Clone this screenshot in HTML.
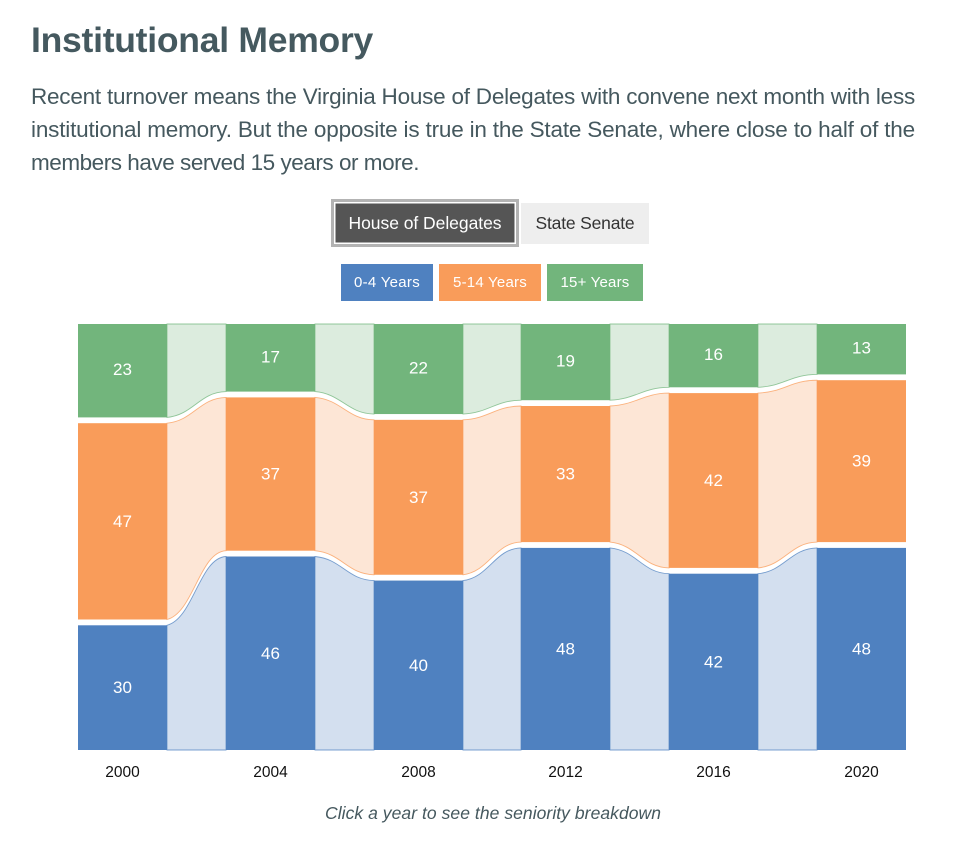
<!DOCTYPE html>
<html lang="en">
<head>
<meta charset="utf-8">
<title>Institutional Memory</title>
<style>
html,body{margin:0;padding:0;background:#fff;}
body{position:relative;width:964px;height:852px;overflow:hidden;font-family:"Liberation Sans",Arial,sans-serif;color:#45585e;}
.t{position:absolute;white-space:nowrap;margin:0;font-weight:normal;}
#title{left:31px;top:19px;line-height:42px;font-size:35.5px;font-weight:bold;color:#45595f;}
.line{left:31px;font-size:22.5px;line-height:30px;color:#45585e;}
.btn{position:absolute;box-sizing:border-box;display:flex;align-items:center;justify-content:center;font-size:17.5px;cursor:pointer;white-space:nowrap;}
#house{left:331px;top:199px;width:188px;height:48px;background:#555;color:#fff;border:3px solid #b3b3b3;box-shadow:inset 0 0 0 1.5px #fff;}
#senate{left:521px;top:203px;width:128px;height:41px;background:#eee;color:#333;}
.key{position:absolute;top:264px;height:37px;line-height:38px;text-align:center;color:#fff;font-size:15px;white-space:nowrap;}
#chart{position:absolute;left:0;top:0;}
#caption{left:325px;top:800px;line-height:26px;font-size:17.5px;font-style:italic;color:#45585e;}
</style>
</head>
<body>
<h1 class="t" id="title" data-w="342">Institutional Memory</h1>
<div class="t line" style="top:82px" data-w="884">Recent turnover means the Virginia House of Delegates with convene next month with less</div>
<div class="t line" style="top:115px" data-w="884">institutional memory. But the opposite is true in the State Senate, where close to half of the</div>
<div class="t line" style="top:148px" data-w="388">members have served 15 years or more.</div>

<div class="btn" id="house"><span data-w="153">House of Delegates</span></div>
<div class="btn" id="senate"><span data-w="99">State Senate</span></div>

<div class="key" style="left:341px;width:92px;background:#4f81c0"><span data-w="66">0-4 Years</span></div>
<div class="key" style="left:439px;width:102px;background:#f99c5a"><span data-w="74">5-14 Years</span></div>
<div class="key" style="left:547px;width:96px;background:#72b57c"><span data-w="69">15+ Years</span></div>

<svg id="chart" width="964" height="852" viewBox="0 0 964 852" xmlns="http://www.w3.org/2000/svg"></svg>

<div class="t" id="caption" data-w="336">Click a year to see the seniority breakdown</div>

<script>
// Chart data
var years = ['2000', '2004', '2008', '2012', '2016', '2020'];
var seriesNames = ['0-4 Years', '5-14 Years', '15+ Years'];
var years0to4 = [30, 46, 40, 48, 42, 48];
var years5to14 = [47, 37, 37, 33, 42, 39];
var years15plus = [23, 17, 22, 19, 16, 13];

var seriesValues = [years0to4, years5to14, years15plus];
var seriesColors = ['#4f81c0', '#f99c5a', '#72b57c'];
var NS = 'http://www.w3.org/2000/svg';
var svg = document.getElementById('chart');

function xScale(i) { return Math.round(78 + i * 147.8); }
var barWidth = 89;
var plotTop = 324, plotBottom = 750;
function yScale(share) {
  var y = 754 - 4.3 * share;
  return Math.max(plotTop, Math.min(plotBottom, y));
}
function stackTotal(i) {
  var t = 0;
  for (var s = 0; s < seriesValues.length; s++) t += seriesValues[s][i];
  return t;
}
function cumulative(s, i) {
  var c = 0;
  for (var k = 0; k <= s; k++) c += seriesValues[k][i];
  return c / stackTotal(i) * 100;
}
// Top edge of a segment
function segTop(s, i) {
  if (s === seriesValues.length - 1) return plotTop;
  return yScale(cumulative(s, i)) + 0.3;
}
// Bottom edge of a segment
function segBottom(s, i) {
  if (s === 0) return plotBottom;
  return yScale(cumulative(s - 1, i)) - 5.5;
}
// Control points of the curve, always defined left to right
function curvePoints(x0, y0, x1, y1) {
  var w = x1 - x0, d = y1 - y0;
  return [x0 + 0.45 * w, y0 + 0.1 * d, x0 + 0.55 * w, y1 - 0.02 * d];
}
function curveForward(x0, y0, x1, y1) {
  var c = curvePoints(x0, y0, x1, y1);
  return 'C' + c[0] + ',' + c[1] + ' ' + c[2] + ',' + c[3] + ' ' + x1 + ',' + y1;
}
function curveBackward(x0, y0, x1, y1) {
  var c = curvePoints(x0, y0, x1, y1);
  return 'C' + c[2] + ',' + c[3] + ' ' + c[0] + ',' + c[1] + ' ' + x0 + ',' + y0;
}

// Ribbons between the year columns
for (var s = 0; s < seriesValues.length; s++) {
  for (var i = 0; i < years.length - 1; i++) {
    var x0 = xScale(i) + barWidth, x1 = xScale(i + 1);
    var d = 'M' + x0 + ',' + segTop(s, i) +
      curveForward(x0, segTop(s, i), x1, segTop(s, i + 1)) +
      'L' + x1 + ',' + segBottom(s, i + 1) +
      curveBackward(x0, segBottom(s, i), x1, segBottom(s, i + 1)) + 'Z';
    var ribbon = document.createElementNS(NS, 'path');
    ribbon.setAttribute('d', d);
    ribbon.setAttribute('fill', seriesColors[s]);
    ribbon.setAttribute('fill-opacity', '0.25');
    ribbon.setAttribute('stroke', seriesColors[s]);
    ribbon.setAttribute('stroke-width', '0.9');
    ribbon.setAttribute('stroke-opacity', '0.75');
    
    
    svg.appendChild(ribbon);
  }
}

// Bars and value labels
for (var s2 = 0; s2 < seriesValues.length; s2++) {
  for (var j = 0; j < years.length; j++) {
    var barTop = segTop(s2, j), barBottom = segBottom(s2, j);
    var rect = document.createElementNS(NS, 'rect');
    rect.setAttribute('x', xScale(j));
    rect.setAttribute('y', barTop);
    rect.setAttribute('width', barWidth);
    rect.setAttribute('height', Math.max(0, barBottom - barTop));
    rect.setAttribute('fill', seriesColors[s2]);
    
    
    svg.appendChild(rect);

    var label = document.createElementNS(NS, 'text');
    label.setAttribute('x', xScale(j) + barWidth / 2);
    label.setAttribute('y', (barTop + barBottom) / 2 + (s2 === 2 ? 4.5 : 5.5));
    label.setAttribute('text-anchor', 'middle');
    label.setAttribute('fill', '#fff');
    label.setAttribute('font-size', '17');
    label.setAttribute('font-family', '"Liberation Sans", Arial, sans-serif');
    label.textContent = seriesValues[s2][j];
    
    
    svg.appendChild(label);
  }
}

// X axis labels
for (var n = 0; n < years.length; n++) {
  var tick = document.createElementNS(NS, 'text');
  tick.setAttribute('x', xScale(n) + barWidth / 2);
  tick.setAttribute('y', 777);
  tick.setAttribute('text-anchor', 'middle');
  tick.setAttribute('fill', '#111');
  tick.setAttribute('font-size', '15.5');
  tick.setAttribute('font-family', '"Liberation Sans", Arial, sans-serif');
  tick.textContent = years[n];
  
  
  svg.appendChild(tick);
}

// Fit text widths to the reference layout
var fitted = document.querySelectorAll('[data-w]');
for (var f = 0; f < fitted.length; f++) {
  var el = fitted[f];
  var probe = document.createRange();
  probe.selectNodeContents(el);
  var gap = (parseFloat(el.getAttribute('data-w')) - probe.getBoundingClientRect().width) / el.textContent.length;
  el.style.letterSpacing = gap.toFixed(3) + 'px';
}
</script>
</body>
</html>
